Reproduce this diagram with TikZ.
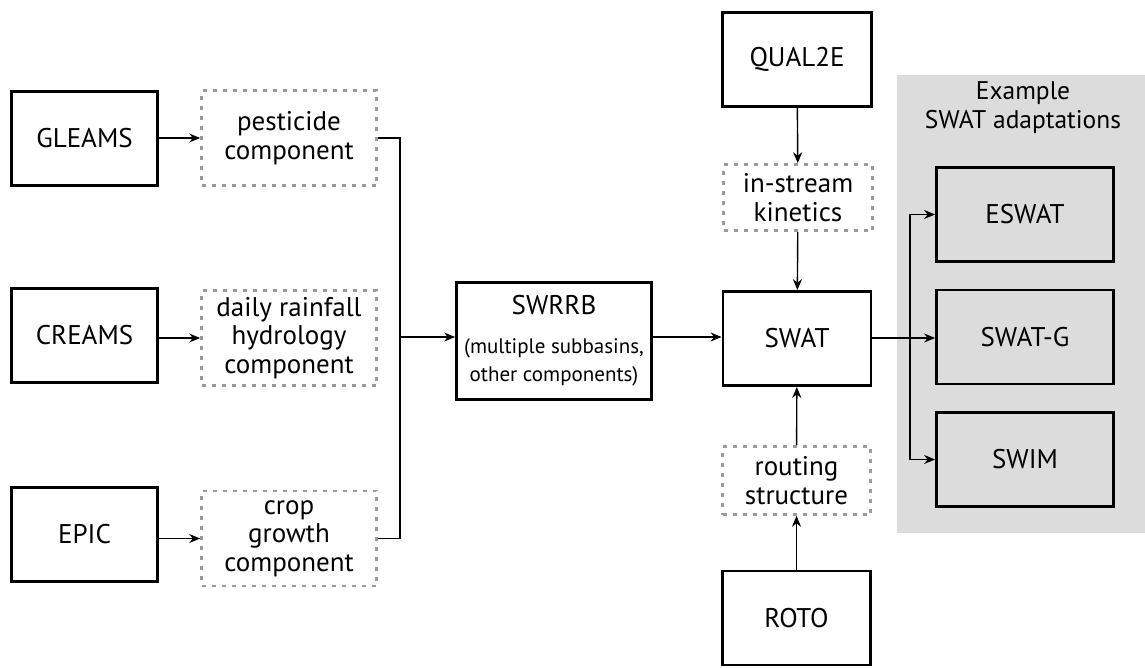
\documentclass[tikz,border=0pt]{standalone}
\usepackage{fontspec}
\setmainfont{PT Sans}
\usetikzlibrary{arrows.meta}
\definecolor{panelc}{HTML}{DCDCDC}
\definecolor{dashc}{HTML}{9A9A9A}
\tikzset{
  model/.style={
    draw=black,
    line width=2.8pt,
    minimum width=146pt,
    minimum height=94pt,
    inner sep=0pt,
    align=center,
  },
  comp/.style={
    draw=dashc,
    line width=2.6pt,
    dash pattern=on 4pt off 6pt,
    minimum width=175pt,
    minimum height=95pt,
    inner sep=0pt,
    align=center,
  },
  arr/.style={-{Stealth[length=11pt,width=9pt]}, line width=1.4pt},
  link/.style={line width=1.4pt},
}

\begin{document}
\begin{tikzpicture}[x=1pt, y=-1pt, font=\fontsize{27}{28.5}\selectfont]
    \useasboundingbox (0,0) rectangle (1145,667);

    % Adaptations panel
    \fill[panelc] (897,75) rectangle (1145,533);
    \node[align=center, font=\fontsize{25.5}{29}\selectfont] (title) at (1023,108) {Example\\SWAT adaptations};

    % Source models and their components
    \node[model] (gleams) at (84.5,138.5) {GLEAMS};
    \node[model] (creams) at (84.5,335.5) {CREAMS};
    \node[model] (epic) at (84.5,534.5) {EPIC};
    \node[comp] (pest) at (289,138) {pesticide\\component};
    \node[comp] (hydro) at (289,338) {daily rainfall\\hydrology\\component};
    \node[comp] (crop) at (289,538.5) {crop\\growth\\component};

    % Main chain
    \node[model, minimum width=195pt, minimum height=117pt] (swrrb) at (554,341)
        {SWRRB\\[10pt]{\fontsize{21}{29}\selectfont (multiple subbasins,}\\{\fontsize{21}{29}\selectfont other components)}};
    \node[model, minimum width=148pt] (swat) at (797,338.5) {SWAT};
    \node[model, minimum width=149pt] (qual) at (797,59.5) {QUAL2E};
    \node[comp, minimum width=149pt, minimum height=66pt] (kin) at (798,197.5) {in-stream\\kinetics};
    \node[comp, minimum width=148pt, minimum height=68pt] (route) at (796.5,480.5) {routing\\structure};
    \node[model, minimum width=148pt] (roto) at (796.5,618) {ROTO};

    % Adaptations
    \node[model, minimum width=177pt] (eswat) at (1025,214.5) {ESWAT};
    \node[model, minimum width=177pt] (swatg) at (1025,337) {SWAT-G};
    \node[model, minimum width=177pt] (swim) at (1025,459.5) {SWIM};

    % Connectors
    \coordinate (join) at (400,337);
    \coordinate (split) at (910,338);
    \draw[arr] (gleams.east |- pest) -- (pest.west);
    \draw[arr] (creams.east |- hydro) -- (hydro.west);
    \draw[arr] (epic.east |- crop) -- (crop.west);
    \draw[link] (pest.east) -| (join) |- (crop.east);
    \draw[arr] (join) -- (join -| swrrb.west);
    \draw[arr] (swrrb.east |- join) -- (swat.west |- join);
    \draw[arr] (qual) -- (kin);
    \draw[arr] (kin) -- (swat);
    \draw[arr] (roto) -- (route);
    \draw[arr] (route) -- (swat);
    \draw[arr] (swat.east |- split) -- (swatg.west |- split);
    \draw[arr] (split) |- (eswat.west);
    \draw[arr] (split) |- (swim.west);
\end{tikzpicture}
\end{document}
